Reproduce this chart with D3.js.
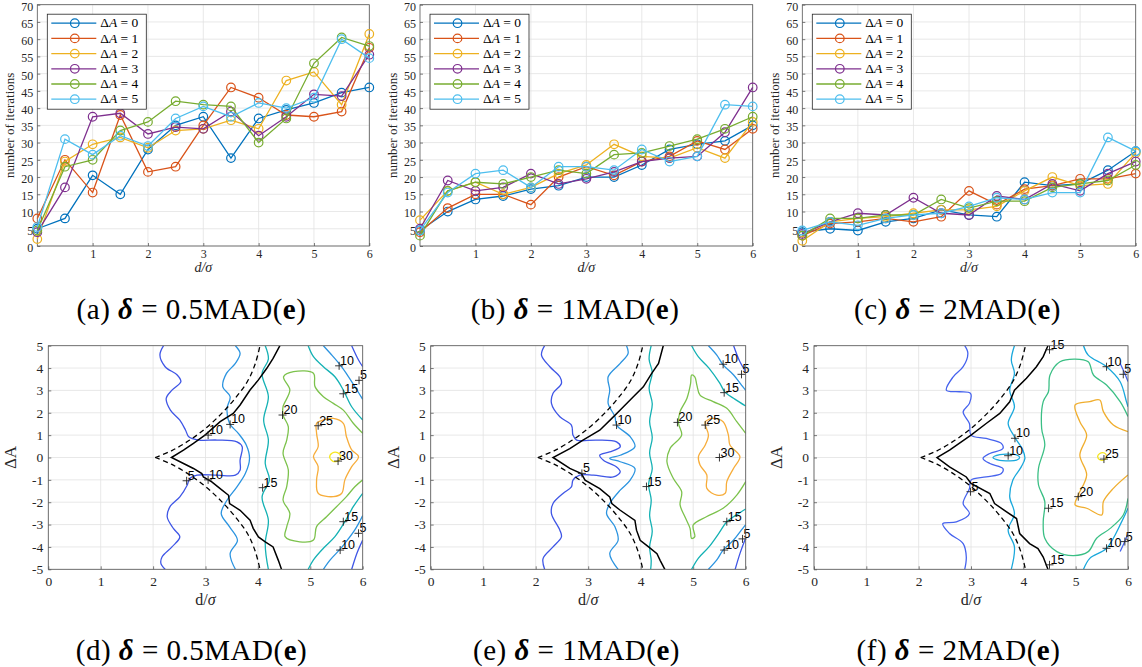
<!DOCTYPE html>
<html><head><meta charset="utf-8">
<script src="https://cdn.jsdelivr.net/npm/d3@7"></script>
<style>body{margin:0;background:#fff}svg{display:block}</style>
</head><body><svg id="c" width="1142" height="667"></svg>
<script>
// ---------------- data ----------------
const dValues = [0,0.5,1,1.5,2,2.5,3,3.5,4,4.5,5,5.5,6];
const deltaALabels = ["0","1","2","3","4","5"];
const seriesColors = ["#0072BD","#D95319","#EDB120","#7E2F8E","#77AC30","#4DBEEE"];
const yTicksTop = [0,5,10,15,20,25,30,35,40,45,50,55,60,65,70];
const xTicksTop = [1,2,3,4,5,6];
const xTicksBottom = [0,1,2,3,4,5,6];
const yTicksBottom = [-5,-4,-3,-2,-1,0,1,2,3,4,5];

const itersHalfMAD = [
  [5,8,20.5,15,28,35,37.5,25.5,37,39.5,41.5,44.5,46],
  [8,25,15.5,38,21.5,23,35,46,43,38,37.5,39,57.5],
  [2,24.5,29.5,31.5,28.5,33.5,34,36.5,34,48,50.5,41,61.5],
  [4,17,37.5,38.5,32.5,34.5,34,39,32,37.5,44,43.5,55.5],
  [4.5,23,25,33.5,36,42,41,40.5,30,37,53,60.5,58],
  [5.5,31,26.5,32,29,37,40.5,37.5,41.5,40,43,60,54.5]
];
const itersOneMAD = [
  [4.5,10,13.5,14.5,16.5,17.5,20,20,23.5,28,29.5,30.5,35],
  [4,11,15,15,12,20,23,20.5,24.5,26,30.5,28,34],
  [7.5,16,18.5,15,17,21,23.5,29.5,26,25.5,28.5,25.5,36],
  [5,19,16,17,21,18,19.5,21.5,24.5,25.5,26,33,46],
  [3,16,18.5,18,20,22,21,26.5,27,29,31,34,37.5],
  [4.5,15.5,21,22,17,23,23,22,28,24.5,26,41,40.5]
];
const itersTwoMAD = [
  [4,5,4.5,7,8,10.5,9,8.5,18.5,17.5,18,22,27.5],
  [3,6.5,7,8,7,8.5,16,12,16.5,17.5,19.5,19.5,21],
  [1.5,7,8,8.5,9.5,10.5,10.5,11.5,16,20,17.5,18,27],
  [3.5,7,9.5,9,14,9.5,9,14.5,13.5,18,16,21,24.5],
  [3,8,8,9,9,13.5,11,13,13,17,18,19,23.5],
  [4.5,7,6,8,9,9.5,11.5,14,13.5,15.5,15.5,31.5,27.5]
];

// theoretical bound (dashed), same in all contour panels
const boundUpper = [[2.04,0],[2.35,0.3],[2.7,0.78],[3.0,1.3],[3.3,1.95],[3.55,2.6],[3.8,3.4],[3.95,4.2],[4.04,5.0]];
const boundLower = [[2.04,0],[2.35,-0.3],[2.7,-0.78],[3.0,-1.3],[3.3,-1.95],[3.55,-2.6],[3.8,-3.4],[3.95,-4.2],[4.04,-5.0]];

// empirical boundary (solid black)
const edgeHalfMAD = [[4.42,5],[4.29,4.43],[4.17,3.99],[4.01,3.47],[3.85,3.02],[3.66,2.35],[3.53,1.97],[3.28,1.6],[2.99,1.0],[2.77,0.63],[2.58,0.33],[2.35,0],
  [2.58,-0.27],[2.77,-0.49],[2.93,-0.72],[2.96,-0.87],[3.12,-1.09],[3.28,-1.39],[3.44,-1.69],[3.46,-2.06],[3.66,-2.36],[3.85,-2.8],[3.91,-3.17],[4.01,-3.55],[4.14,-3.77],[4.29,-4.0],[4.39,-4.6],[4.45,-5]];
const edgeOneMAD = [[4.43,5],[4.34,4.21],[4.21,3.76],[4.05,3.16],[3.86,2.72],[3.61,2.12],[3.45,1.75],[3.22,1.22],[2.9,0.78],[2.65,0.4],[2.33,0],
  [2.65,-0.49],[2.87,-0.72],[2.94,-1.01],[3.22,-1.39],[3.41,-1.76],[3.45,-2.06],[3.61,-2.36],[3.89,-2.81],[3.92,-3.25],[3.99,-3.7],[4.15,-4.0],[4.31,-4.3],[4.37,-4.6],[4.46,-5]];
const edgeTwoMAD = [[4.47,5],[4.38,4.51],[4.25,4.06],[4.06,3.54],[3.83,3.01],[3.74,2.49],[3.55,1.97],[3.29,1.52],[3.0,1.0],[2.59,0.33],[2.35,0],
  [2.59,-0.42],[2.91,-0.87],[3.0,-1.16],[3.36,-1.61],[3.45,-2.06],[3.68,-2.43],[3.87,-2.73],[3.93,-3.4],[4.12,-3.85],[4.28,-4.07],[4.38,-4.45],[4.47,-5]];

// iso-lines of number of iterations (levels), points in (d/sigma, dA)
const isoHalfMAD = [
  {level:5, closed:false, pts:[[2.2,5],[2.13,4.58],[2.23,4.06],[2.46,3.69],[2.53,3.39],[2.36,3.01],[2.25,2.64],[2.33,2.12],[2.51,1.67],[2.62,1.22],[2.68,0.93],[2.87,0.78],[3.22,0.78],[3.6,0.7],[3.7,0.48],[3.66,-0.12],[3.66,-0.57],[3.57,-0.79],[3.22,-0.79],[2.84,-0.79],[2.7,-0.94],[2.65,-1.24],[2.51,-1.76],[2.32,-2.21],[2.27,-2.66],[2.39,-3.18],[2.51,-3.55],[2.36,-4.0],[2.17,-4.45],[2.15,-4.75],[2.23,-5]]},
  {level:10, closed:false, pts:[[3.57,5],[3.66,4.66],[3.57,4.21],[3.4,3.76],[3.33,3.16],[3.47,2.72],[3.41,2.19],[3.46,1.52],[3.63,1.07],[3.78,0.55],[3.84,-0.04],[3.76,-0.72],[3.6,-1.31],[3.41,-1.91],[3.3,-2.51],[3.46,-3.1],[3.61,-3.7],[3.47,-4.3],[3.57,-5]]},
  {level:15, closed:false, pts:[[4.14,5],[4.2,4.4],[4.08,3.76],[4.2,2.72],[4.11,1.67],[4.2,0.78],[4.14,-0.27],[4.22,-1.0],[4.08,-1.76],[4.2,-2.81],[4.14,-3.85],[4.2,-5]]},
  {level:20, closed:false, pts:[[6,1.08],[5.82,1.53],[5.63,2.12],[5.44,2.42],[5.25,2.72],[5.09,3.17],[5.06,3.77],[4.68,3.84],[4.49,3.61],[4.61,3.02],[4.48,2.27],[4.48,1.9],[4.58,1.38],[4.55,0.78],[4.48,0.19],[4.58,-0.55],[4.55,-1.3],[4.48,-1.9],[4.61,-2.5],[4.55,-3.1],[4.52,-3.54],[4.8,-3.77],[5.06,-3.69],[5.12,-3.09],[5.31,-2.65],[5.5,-2.2],[5.69,-1.75],[5.85,-1.31],[6,-1.0]]},
  {level:25, closed:true, pts:[[5.12,1.53],[5.25,1.68],[5.44,1.75],[5.63,1.53],[5.69,0.93],[5.79,0.34],[5.92,0.04],[5.79,-0.41],[5.66,-1.0],[5.6,-1.6],[5.44,-1.75],[5.15,-1.6],[5.12,-1.0],[5.15,-0.41],[5.06,0.04],[5.15,0.48],[5.12,1.08]]},
  {level:30, closed:true, pts:[[5.37,0],[5.42,0.2],[5.52,0.22],[5.58,0.05],[5.55,-0.12],[5.45,-0.18]]},
  {level:15, closed:false, pts:[[4.96,5],[5.06,4.51],[5.25,4.06],[5.47,3.61],[5.63,3.02],[5.79,2.27],[6,1.68]]},
  {level:15, closed:false, pts:[[6,-1.6],[5.82,-2.2],[5.66,-2.87],[5.47,-3.54],[5.25,-4.06],[5.06,-4.58],[4.96,-5]]},
  {level:10, closed:false, pts:[[5.25,5],[5.38,4.66],[5.57,4.14],[5.73,3.61],[5.89,3.02],[6,2.6]]},
  {level:10, closed:false, pts:[[6,-2.6],[5.85,-3.24],[5.66,-3.84],[5.57,-4.1],[5.38,-4.58],[5.25,-5]]},
  {level:5, closed:false, pts:[[5.79,5],[5.92,4.36],[6,4.06]]},
  {level:5, closed:false, pts:[[6,-3.69],[5.89,-4.28],[5.79,-5]]}
];
const isoOneMAD = [
  {level:5, closed:false, pts:[[2.17,5],[2.11,4.58],[2.27,4.06],[2.46,3.61],[2.49,3.31],[2.33,2.87],[2.3,2.42],[2.46,1.82],[2.68,1.45],[2.71,1.0],[2.78,0.78],[3.16,0.78],[3.54,0.7],[3.61,0.48],[3.41,0.25],[3.22,0.1],[3.29,-0.12],[3.54,-0.42],[3.61,-0.64],[3.48,-0.87],[3.1,-0.79],[2.84,-0.79],[2.71,-1.01],[2.68,-1.31],[2.52,-1.61],[2.33,-2.06],[2.3,-2.51],[2.46,-3.25],[2.49,-3.55],[2.33,-4.0],[2.14,-4.52],[2.17,-5]]},
  {level:10, closed:false, pts:[[3.73,5],[3.76,4.66],[3.61,4.21],[3.38,3.61],[3.41,3.01],[3.38,2.42],[3.51,1.82],[3.54,1.45],[3.8,0.93],[3.89,0.48],[3.61,0.1],[3.41,-0.04],[3.61,-0.19],[3.89,-0.49],[3.8,-1.01],[3.61,-1.46],[3.41,-2.06],[3.35,-2.51],[3.51,-3.1],[3.57,-3.7],[3.41,-4.3],[3.57,-5]]},
  {level:15, closed:false, pts:[[4.2,5],[4.16,4.4],[4.22,3.8],[4.16,3.1],[4.22,2.4],[4.17,1.6],[4.22,0.9],[4.17,0.2],[4.22,-0.5],[4.15,-1.2],[4.2,-1.9],[4.17,-2.6],[4.22,-3.3],[4.17,-4.0],[4.2,-4.6],[4.19,-5]]},
  {level:20, closed:false, pts:[[6,1.08],[5.83,1.6],[5.64,2.2],[5.38,2.5],[5.13,2.79],[5.07,3.24],[5.03,3.61],[4.97,3.69],[4.95,3.3],[4.88,2.64],[4.75,2.05],[4.72,1.53],[4.78,1.0],[4.56,0.41],[4.5,-0.19],[4.62,-0.93],[4.78,-1.53],[4.75,-2.12],[4.84,-2.64],[4.94,-3.17],[4.97,-3.62],[5.03,-3.54],[5.0,-3.02],[5.26,-2.64],[5.57,-2.27],[5.83,-1.68],[6,-1.08]]},
  {level:25, closed:true, pts:[[5.23,1.6],[5.38,1.75],[5.57,1.6],[5.67,1.0],[5.7,0.56],[5.89,0.04],[5.77,-0.48],[5.64,-1.08],[5.61,-1.6],[5.45,-1.68],[5.26,-1.38],[5.26,-0.78],[5.13,-0.34],[5.1,0.04],[5.23,0.56],[5.29,1.0],[5.23,1.45]]},
  {level:15, closed:false, pts:[[4.97,5],[5.1,4.5],[5.3,4.0],[5.5,3.35],[5.61,2.91],[5.8,2.6],[6,2.3]]},
  {level:15, closed:false, pts:[[6,-2.3],[5.8,-2.6],[5.64,-2.87],[5.5,-3.35],[5.3,-4.0],[5.1,-4.5],[4.97,-5]]},
  {level:10, closed:false, pts:[[5.29,5],[5.45,4.58],[5.57,4.14],[5.77,3.69],[5.92,3.24],[6,3.0]]},
  {level:10, closed:false, pts:[[6,-3.0],[5.92,-3.24],[5.77,-3.69],[5.57,-4.14],[5.45,-4.58],[5.29,-5]]},
  {level:5, closed:false, pts:[[5.77,5],[5.89,4.28],[6,3.84]]},
  {level:5, closed:false, pts:[[6,-3.6],[5.89,-4.3],[5.8,-5]]}
];
const isoTwoMAD = [
  {level:5, closed:false, pts:[[2.88,5],[2.94,4.66],[2.85,4.06],[2.66,3.61],[2.53,3.01],[2.78,2.94],[2.99,2.87],[2.97,2.42],[2.85,2.04],[2.97,1.52],[3.0,1.0],[3.29,0.85],[3.58,0.63],[3.61,0.4],[3.36,0.18],[3.23,-0.04],[3.36,-0.27],[3.61,-0.49],[3.58,-0.72],[3.29,-0.87],[3.0,-1.01],[2.97,-1.39],[2.85,-2.06],[2.97,-2.51],[2.72,-2.88],[2.46,-2.96],[2.59,-3.4],[2.85,-3.85],[2.91,-4.45],[2.88,-5]]},
  {level:10, closed:false, pts:[[3.83,5],[3.77,4.36],[3.83,3.76],[3.74,3.01],[3.83,2.27],[3.71,1.52],[3.83,0.93],[3.99,0.33],[4.03,-0.04],[3.96,-0.42],[3.8,-1.01],[3.74,-1.76],[3.83,-2.51],[3.71,-3.25],[3.83,-4.0],[3.77,-5]]},
  {level:10, closed:true, pts:[[3.42,0],[3.55,0.13],[3.71,0.15],[3.87,0.12],[3.93,0],[3.87,-0.12],[3.71,-0.15],[3.55,-0.13]]},
  {level:15, closed:false, pts:[[6,1.83],[5.85,2.5],[5.59,3.24],[5.34,3.69],[5.24,4.28],[4.99,4.4],[4.7,4.28],[4.51,3.69],[4.48,2.94],[4.38,2.5],[4.35,1.3],[4.41,0.56],[4.29,-0.48],[4.29,-1.23],[4.41,-1.97],[4.38,-2.87],[4.41,-3.61],[4.64,-4.21],[4.96,-4.39],[5.24,-4.21],[5.4,-3.61],[5.66,-3.17],[5.91,-2.57],[6,-1.83]]},
  {level:20, closed:false, pts:[[6,1.16],[5.72,1.45],[5.53,2.05],[5.46,2.57],[5.27,2.5],[4.99,2.35],[5.08,1.6],[5.21,1.0],[5.08,0.11],[5.21,-0.78],[5.05,-1.68],[4.99,-2.12],[5.21,-2.27],[5.5,-2.57],[5.53,-1.97],[5.72,-1.38],[6,-0.78]]},
  {level:25, closed:true, pts:[[5.42,0.04],[5.46,0.18],[5.55,0.2],[5.59,0.05],[5.55,-0.1],[5.46,-0.1]]},
  {level:10, closed:false, pts:[[5.15,5],[5.24,4.58],[5.59,4.06],[5.85,3.39],[5.97,2.5],[6,2.27]]},
  {level:10, closed:false, pts:[[6,-2.27],[5.88,-2.87],[5.59,-4.06],[5.27,-4.51],[5.15,-5]]},
  {level:5, closed:false, pts:[[5.85,4.2],[5.93,3.8],[6,3.4]]},
  {level:5, closed:false, pts:[[6,-3.4],[5.93,-3.8],[5.85,-4.2]]}
];

// contour labels: [d/sigma, dA, text]
const labelsHalfMAD = [[3.05,1.0,"10"],[3.05,-1.0,"10"],[2.64,-1.04,"5"],[3.47,1.48,"10"],[4.47,1.9,"20"],[4.09,-1.35,"15"],[5.15,1.42,"25"],[5.53,-0.16,"30"],[5.55,4.1,"10"],[5.93,3.45,"5"],[5.63,2.85,"15"],[5.63,-2.87,"15"],[5.92,-3.39,"5"],[5.57,-4.14,"10"]];
const labelsOneMAD = [[3.54,1.45,"10"],[2.88,-0.71,"5"],[4.11,-1.3,"15"],[4.7,1.57,"20"],[5.23,1.45,"25"],[5.5,0,"30"],[5.57,4.17,"10"],[5.92,3.72,"5"],[5.59,2.9,"15"],[5.64,-2.87,"15"],[5.94,-3.64,"5"],[5.59,-4.14,"10"]];
const labelsTwoMAD = [[4.5,4.82,"15"],[5.59,4.06,"10"],[5.91,3.72,"5"],[3.84,0.86,"10"],[3.71,0.08,"10"],[2.99,-1.53,"5"],[5.54,-0.07,"25"],[5.05,-1.75,"20"],[4.48,-2.27,"15"],[5.59,-4.06,"10"],[5.94,-3.76,"5"],[4.5,-4.8,"15"]];

const levelColorsA = {5:"#3f56e6",10:"#2c94e0",15:"#14b1b4",20:"#7cc24c",25:"#f7ad3b",30:"#f6e71f"};
const levelColorsB = {5:"#4663ee",10:"#1aa8dc",15:"#3bbf85",20:"#f0ae2f",25:"#f4e41c"};

// ---------------- drawing ----------------
const svg = d3.select("#c");
const SERIF = "'Liberation Serif','Times New Roman',serif";
const SANS = "'Liberation Sans',Arial,sans-serif";
const AXC = "#262626";
const GRIDC = "#e2e2e2";
const fmtInt = d3.format("d");

function drawTop(box, data, capLetter, capCoef, capX) {
  const x = d3.scaleLinear().domain([0,6]).range([box.l, box.r]);
  const y = d3.scaleLinear().domain([0,70]).range([box.b, box.t]);
  const g = svg.append("g");
  g.append("g").selectAll("line").data(yTicksTop).join("line")
    .attr("x1",box.l).attr("x2",box.r).attr("y1",d=>y(d)).attr("y2",d=>y(d))
    .attr("stroke",GRIDC).attr("stroke-width",0.8);
  g.append("g").selectAll("line").data(xTicksTop).join("line")
    .attr("y1",box.t).attr("y2",box.b).attr("x1",d=>x(d)).attr("x2",d=>x(d))
    .attr("stroke",GRIDC).attr("stroke-width",0.8);
  const ax = g.append("g").attr("transform",`translate(0,${box.b})`)
    .call(d3.axisBottom(x).tickValues(xTicksTop).tickFormat(fmtInt).tickSizeInner(-3).tickSizeOuter(0).tickPadding(3));
  const ay = g.append("g").attr("transform",`translate(${box.l},0)`)
    .call(d3.axisLeft(y).tickValues(yTicksTop).tickFormat(fmtInt).tickSizeInner(-3).tickSizeOuter(0).tickPadding(4));
  [ax,ay].forEach(a=>{
    a.select(".domain").remove();
    a.selectAll("line").attr("stroke",AXC).attr("stroke-width",0.6);
    a.selectAll("text").attr("font-family",SERIF).attr("font-size",12).attr("fill",AXC);
  });
  ay.selectAll("text").attr("dy","0.45em");
  g.append("rect").attr("x",box.l).attr("y",box.t).attr("width",box.r-box.l).attr("height",box.b-box.t)
    .attr("fill","none").attr("stroke","#555").attr("stroke-width",0.8);
  const line = d3.line().x((d,i)=>x(dValues[i])).y(d=>y(d));
  data.forEach((s,k)=>{
    g.append("path").attr("d",line(s)).attr("fill","none").attr("stroke",seriesColors[k]).attr("stroke-width",1.3);
    g.append("g").selectAll("circle").data(s).join("circle")
      .attr("cx",(d,i)=>x(dValues[i])).attr("cy",d=>y(d)).attr("r",4.3)
      .attr("fill","none").attr("stroke",seriesColors[k]).attr("stroke-width",1.2);
  });
  // legend
  const lg = g.append("g").attr("transform",`translate(${box.l+10},${box.t+9.5})`);
  lg.append("rect").attr("width",99).attr("height",95).attr("fill","#fff").attr("stroke",AXC).attr("stroke-width",0.8);
  deltaALabels.forEach((lab,k)=>{
    const yy = 9 + k*15.2;
    lg.append("line").attr("x1",4).attr("x2",49).attr("y1",yy).attr("y2",yy).attr("stroke",seriesColors[k]).attr("stroke-width",1.3);
    lg.append("circle").attr("cx",27.5).attr("cy",yy).attr("r",4.3).attr("fill","none").attr("stroke",seriesColors[k]).attr("stroke-width",1.2);
    const t = lg.append("text").attr("x",53).attr("y",yy+4.3).attr("font-family",SERIF).attr("font-size",13.5).attr("fill","#000");
    t.append("tspan").text("Δ");
    t.append("tspan").attr("font-style","italic").text("A");
    t.append("tspan").text(" = " + lab);
  });
  // axis labels
  g.append("text").attr("transform",`translate(${box.l-23},${(box.t+box.b)/2}) rotate(-90)`)
    .attr("text-anchor","middle").attr("font-family",SERIF).attr("font-size",13).attr("fill",AXC).text("number of iterations");
  g.append("text").attr("x",(box.l+box.r)/2).attr("y",box.b+26).attr("text-anchor","middle")
    .attr("font-family",SERIF).attr("font-size",14).attr("font-style","italic").attr("fill",AXC).text("d/σ");
  caption(capX, 319, capLetter, capCoef);
}

function caption(cx, by, letter, coef) {
  const t = svg.append("text").attr("x",cx).attr("y",by).attr("text-anchor","middle")
    .attr("font-family",SERIF).attr("font-size",29).attr("letter-spacing",0.5).attr("fill","#000");
  t.append("tspan").text(`(${letter}) `);
  t.append("tspan").attr("font-style","italic").attr("font-weight","bold").text("δ");
  t.append("tspan").text(` = ${coef}MAD(`);
  t.append("tspan").attr("font-weight","bold").text("e");
  t.append("tspan").text(")");
}

let clipId = 0;
function drawBottom(box, iso, edge, labels, colors, capLetter, capCoef, capX) {
  const x = d3.scaleLinear().domain([0,6]).range([box.l, box.r]);
  const y = d3.scaleLinear().domain([-5,5]).range([box.b, box.t]);
  const g = svg.append("g");
  const id = "clip"+(clipId++);
  svg.append("clipPath").attr("id",id).append("rect").attr("x",box.l).attr("y",box.t).attr("width",box.r-box.l).attr("height",box.b-box.t);
  g.append("g").selectAll("line").data(yTicksBottom).join("line")
    .attr("x1",box.l).attr("x2",box.r).attr("y1",d=>y(d)).attr("y2",d=>y(d))
    .attr("stroke",GRIDC).attr("stroke-width",0.8);
  g.append("g").selectAll("line").data(xTicksBottom).join("line")
    .attr("y1",box.t).attr("y2",box.b).attr("x1",d=>x(d)).attr("x2",d=>x(d))
    .attr("stroke",GRIDC).attr("stroke-width",0.8);
  const ax = g.append("g").attr("transform",`translate(0,${box.b})`)
    .call(d3.axisBottom(x).tickValues(xTicksBottom).tickFormat(fmtInt).tickSizeInner(-3).tickSizeOuter(0).tickPadding(7));
  const ay = g.append("g").attr("transform",`translate(${box.l},0)`)
    .call(d3.axisLeft(y).tickValues(yTicksBottom).tickFormat(d=>fmtInt(d).replace("−","-")).tickSizeInner(-3).tickSizeOuter(0).tickPadding(5));
  [ax,ay].forEach(a=>{
    a.select(".domain").remove();
    a.selectAll("line").attr("stroke",AXC).attr("stroke-width",0.6);
    a.selectAll("text").attr("font-family",SERIF).attr("font-size",13.5).attr("fill",AXC);
  });
  const pg = g.append("g").attr("clip-path",`url(#${id})`);
  const lineOpen = d3.line().x(d=>x(d[0])).y(d=>y(d[1])).curve(d3.curveCatmullRom.alpha(0.5));
  const lineClosed = d3.line().x(d=>x(d[0])).y(d=>y(d[1])).curve(d3.curveCatmullRomClosed.alpha(0.5));
  const lineLin = d3.line().x(d=>x(d[0])).y(d=>y(d[1]));
  iso.forEach(c=>{
    pg.append("path").attr("d",(c.closed?lineClosed:lineOpen)(c.pts)).attr("fill","none")
      .attr("stroke",colors[c.level]).attr("stroke-width",1.3);
  });
  pg.append("path").attr("d",lineOpen(boundUpper)).attr("fill","none").attr("stroke","#000").attr("stroke-width",1.3).attr("stroke-dasharray","5,3.5");
  pg.append("path").attr("d",lineOpen(boundLower)).attr("fill","none").attr("stroke","#000").attr("stroke-width",1.3).attr("stroke-dasharray","5,3.5");
  pg.append("path").attr("d",lineLin(edge)).attr("fill","none").attr("stroke","#000").attr("stroke-width",1.5);
  // labels
  labels.forEach(([lx,ly,txt])=>{
    const px = x(lx), py = y(ly);
    g.append("path").attr("d",`M${px-4},${py}H${px+4}M${px},${py-4}V${py+4}`).attr("stroke","#222").attr("stroke-width",0.9);
    g.append("text").attr("x",px+1).attr("y",py-1).attr("font-family",SANS).attr("font-size",12.5).attr("fill","#000").text(txt);
  });
  g.append("rect").attr("x",box.l).attr("y",box.t).attr("width",box.r-box.l).attr("height",box.b-box.t)
    .attr("fill","none").attr("stroke","#555").attr("stroke-width",0.8);
  // axis labels
  g.append("text").attr("transform",`translate(${box.l-32},${(box.t+box.b)/2}) rotate(-90)`)
    .attr("text-anchor","middle").attr("font-family",SERIF).attr("font-size",17).attr("fill",AXC).text("ΔA");
  const xl = g.append("text").attr("x",(box.l+box.r)/2).attr("y",box.b+36).attr("text-anchor","middle")
    .attr("font-family",SERIF).attr("font-size",16).attr("fill",AXC);
  xl.append("tspan").text("d/");
  xl.append("tspan").attr("font-style","italic").text("σ");
  caption(capX, 660, capLetter, capCoef);
}

drawTop({l:37.3,r:369.3,t:4.7,b:246}, itersHalfMAD, "a", "0.5", 191.5);
drawTop({l:420,r:752.7,t:4.7,b:246}, itersOneMAD, "b", "1", 575);
drawTop({l:802.3,r:1135.7,t:4.7,b:246}, itersTwoMAD, "c", "2", 957.5);
drawBottom({l:48.3,r:362.7,t:345.7,b:569.3}, isoHalfMAD, edgeHalfMAD, labelsHalfMAD, levelColorsA, "d", "0.5", 191.5);
drawBottom({l:430.7,r:745.7,t:345.7,b:569.3}, isoOneMAD, edgeOneMAD, labelsOneMAD, levelColorsA, "e", "1", 576.5);
drawBottom({l:814,r:1128,t:345.7,b:569.3}, isoTwoMAD, edgeTwoMAD, labelsTwoMAD, levelColorsB, "f", "2", 958.5);
</script></body></html>
